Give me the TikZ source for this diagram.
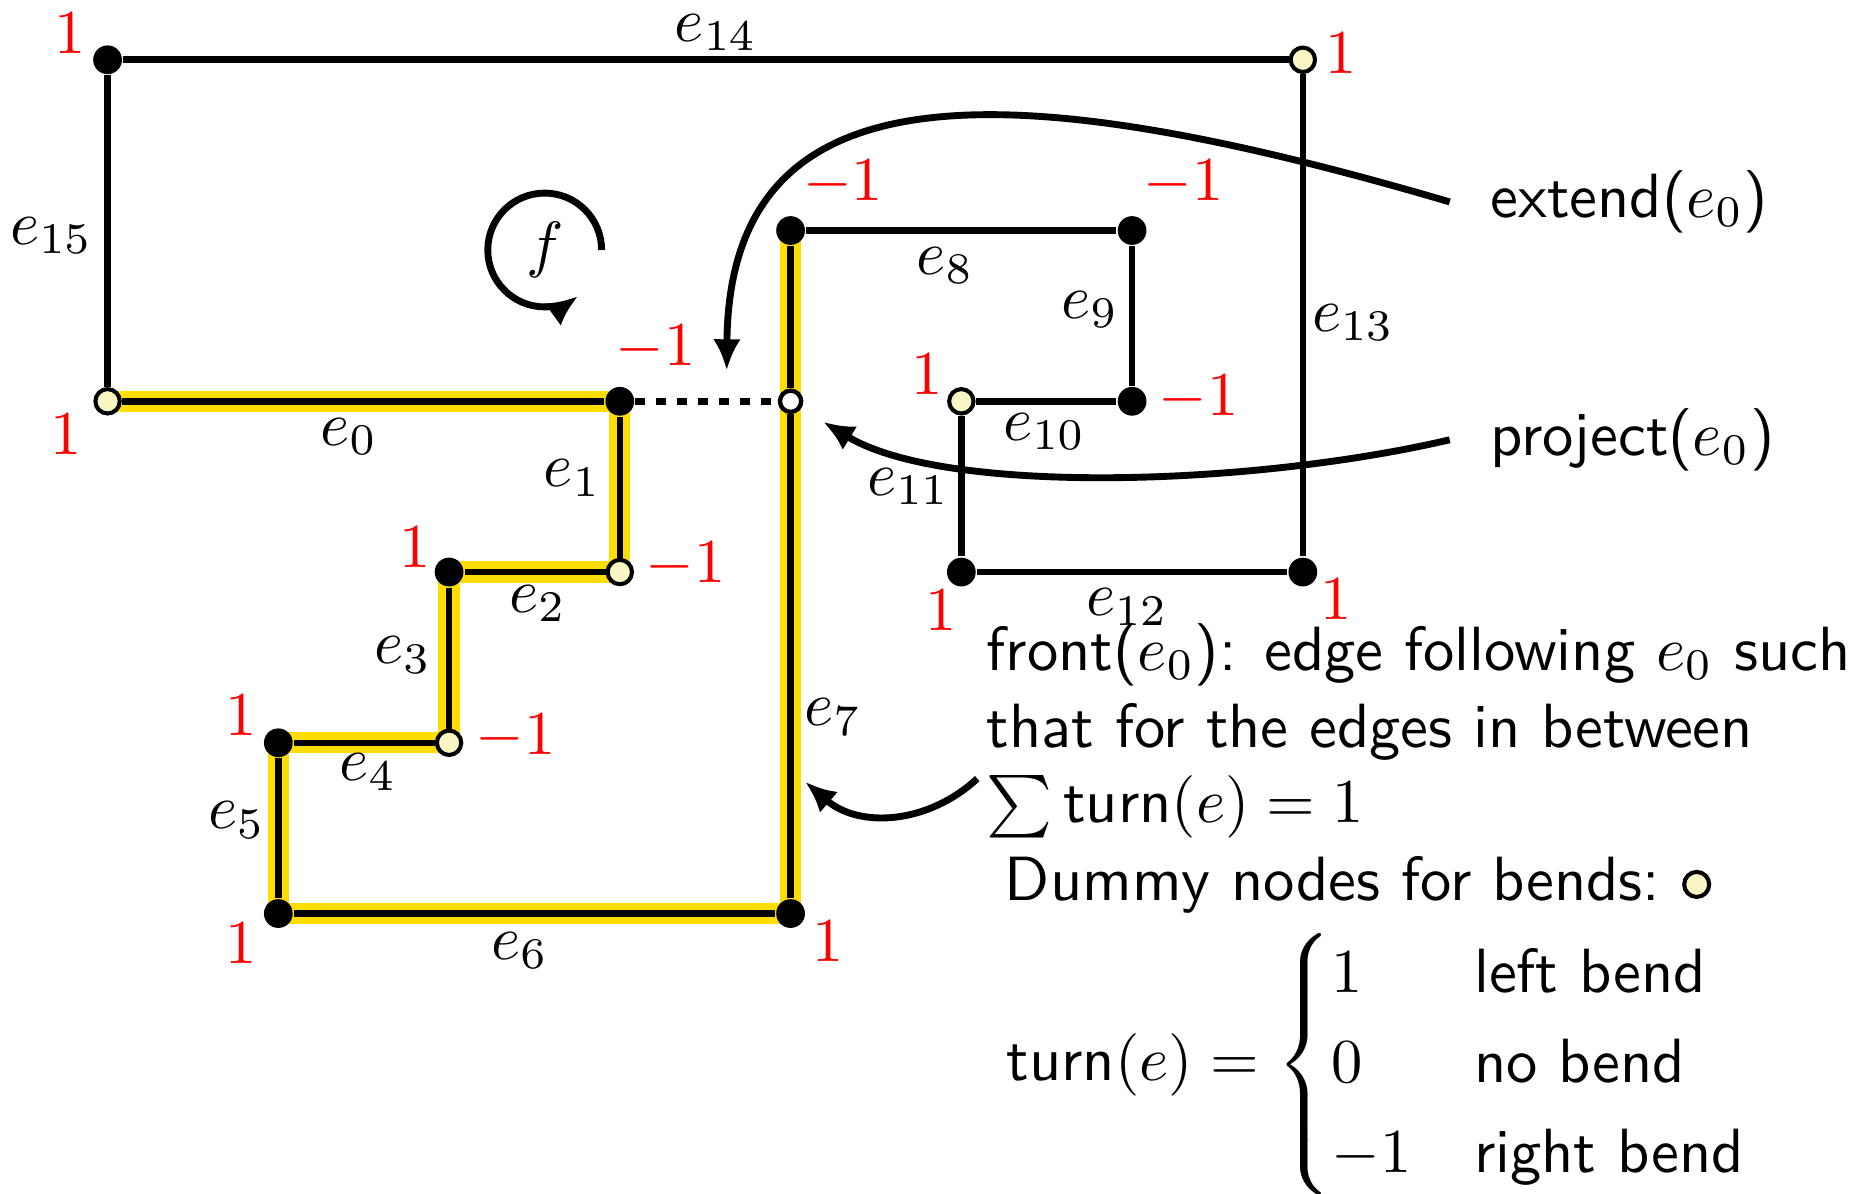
\documentclass[tikz,border=0pt]{standalone}
\usepackage{amsmath}
\usepackage{tikz}
\usetikzlibrary{arrows.meta,positioning,backgrounds}
\definecolor{hlYellow}{RGB}{255,221,0}
\definecolor{dummyFill}{RGB}{250,246,196}
\tikzset{
myVertex/.style={
	circle, fill=black, inner sep=0pt, minimum size=4.6pt
}
, myDummy/.style={
	circle, draw=black, line width=0.65pt, fill=dummyFill,
	inner sep=0pt, minimum size=3.9pt
}
, myProj/.style={
	circle, draw=black, line width=0.7pt, fill=white,
	inner sep=0pt, minimum size=3.4pt
}
% links
, myEdge/.style={line width=1.05pt}
, myHigh/.style={line width=3.4pt, color=hlYellow}
, myDash/.style={line width=1.1pt, dash pattern=on 1.6pt off 1.75pt}
, myArrow/.style={-{Latex[length=5pt,width=4.4pt]}, line width=1.1pt}
% labels
, myTurn/.style={text=red, inner sep=0pt}
, myLabel/.style={inner sep=0pt}
, myText/.style={font=\sffamily, anchor=base west}
}
\begin{document}
\begin{tikzpicture}[x=0.96cm, y=0.96cm]
	\useasboundingbox (-0.63,-1.637) rectangle (10.345,5.35);
	% vertices of the face
	\node[myDummy]  (V0)  at (0,3) {};
	\node[myVertex] (V1)  at (3,3) {};
	\node[myDummy]  (V2)  at (3,2) {};
	\node[myVertex] (V3)  at (2,2) {};
	\node[myDummy]  (V4)  at (2,1) {};
	\node[myVertex] (V5)  at (1,1) {};
	\node[myVertex] (V6)  at (1,0) {};
	\node[myVertex] (V7)  at (4,0) {};
	\node[myVertex] (V8)  at (4,4) {};
	\node[myVertex] (V9)  at (6,4) {};
	\node[myVertex] (V10) at (6,3) {};
	\node[myDummy]  (V11) at (5,3) {};
	\node[myVertex] (V12) at (5,2) {};
	\node[myVertex] (V13) at (7,2) {};
	\node[myDummy]  (V14) at (7,5) {};
	\node[myVertex] (V15) at (0,5) {};
	% projection of e0
	\node[myProj] (Pr) at (4,3) {};

	% front path
	\begin{pgfonlayer}{background}
	\draw[myHigh] (V0.center) -- (V1.center) -- (V2.center) -- (V3.center)
		-- (V4.center) -- (V5.center) -- (V6.center) -- (V7.center) -- (V8.center);
	\end{pgfonlayer}

	% edges
	\draw[myEdge] (V0) -- (V1);
	\draw[myEdge] (V1) -- (V2);
	\draw[myEdge] (V2) -- (V3);
	\draw[myEdge] (V3) -- (V4);
	\draw[myEdge] (V4) -- (V5);
	\draw[myEdge] (V5) -- (V6);
	\draw[myEdge] (V6) -- (V7);
	\draw[myEdge] (V7) -- (Pr) -- (V8);
	\draw[myEdge] (V8) -- (V9);
	\draw[myEdge] (V9) -- (V10);
	\draw[myEdge] (V10) -- (V11);
	\draw[myEdge] (V11) -- (V12);
	\draw[myEdge] (V12) -- (V13);
	\draw[myEdge] (V13) -- (V14);
	\draw[myEdge] (V14) -- (V15);
	\draw[myEdge] (V15) -- (V0);
	\draw[myDash] (V1) -- (Pr);

	% edge names
	\node[myLabel] (E0)  at (1.414,2.795) {$e_0$};
	\node[myLabel] (E1)  at (2.723,2.55)  {$e_1$};
	\node[myLabel] (E2)  at (2.52,1.815)  {$e_2$};
	\node[myLabel] (E3)  at (1.729,1.514) {$e_3$};
	\node[myLabel] (E4)  at (1.526,0.828) {$e_4$};
	\node[myLabel] (E5)  at (0.756,0.548) {$e_5$};
	\node[myLabel] (E6)  at (2.415,-0.215) {$e_6$};
	\node[myLabel] (E7)  at (4.249,1.15)  {$e_7$};
	\node[myLabel] (E8)  at (4.907,3.796) {$e_8$};
	\node[myLabel] (E9)  at (5.754,3.537) {$e_9$};
	\node[myLabel] (E10) at (5.488,2.823) {$e_{10}$};
	\node[myLabel] (E11) at (4.69,2.5)    {$e_{11}$};
	\node[myLabel] (E12) at (5.971,1.794) {$e_{12}$};
	\node[myLabel] (E13) at (7.294,3.46)  {$e_{13}$};
	\node[myLabel] (E14) at (3.563,5.161) {$e_{14}$};
	\node[myLabel] (E15) at (-0.329,3.971) {$e_{15}$};

	% turn values
	\node[myTurn] (T0)  at ([shift={(-0.24,-0.196)}]V0)  {$1$};
	\node[myTurn] (T1)  at ([shift={(0.21,0.315)}]V1)    {$-1$};
	\node[myTurn] (T2)  at ([shift={(0.385,0.04)}]V2)    {$-1$};
	\node[myTurn] (T3)  at ([shift={(-0.2,0.147)}]V3)    {$1$};
	\node[myTurn] (T4)  at ([shift={(0.39,0.035)}]V4)    {$-1$};
	\node[myTurn] (T5)  at ([shift={(-0.217,0.16)}]V5)   {$1$};
	\node[myTurn] (T6)  at ([shift={(-0.22,-0.175)}]V6)  {$1$};
	\node[myTurn] (T7)  at ([shift={(0.217,-0.16)}]V7)   {$1$};
	\node[myTurn] (T8)  at ([shift={(0.308,0.28)}]V8)    {$-1$};
	\node[myTurn] (T9)  at ([shift={(0.30,0.28)}]V9)     {$-1$};
	\node[myTurn] (T10) at ([shift={(0.39,0.02)}]V10)    {$-1$};
	\node[myTurn] (T11) at ([shift={(-0.2,0.16)}]V11)    {$1$};
	\node[myTurn] (T12) at ([shift={(-0.12,-0.224)}]V12) {$1$};
	\node[myTurn] (T13) at ([shift={(0.196,-0.16)}]V13)  {$1$};
	\node[myTurn] (T14) at ([shift={(0.224,0.04)}]V14)   {$1$};
	\node[myTurn] (T15) at ([shift={(-0.217,0.154)}]V15) {$1$};

	% face
	\node (F) at (2.56,3.886) {$f$};
	\draw[myArrow] ([xshift=0.32cm]F.center) arc[start angle=0, end angle=306, radius=0.32cm];

	% explanations
	\node[myText] (Ext)  at (7.97,4.076) {extend($e_0$)};
	\node[myText] (Proj) at (7.97,2.683) {project($e_0$)};
	\node[myText] (Front)   at (5.02,1.423) {front($e_0$): edge following $e_0$ such};
	\node[myText] (Between) at (5.02,0.975) {that for the edges in between};
	\node[myText] (Sum)     at (5.02,0.534) {$\sum \textsf{turn}(e) = 1$};
	\node[myText] (Dummy)   at (5.126,0.079) {Dummy nodes for bends:};
	\node[myDummy, minimum size=4pt, right=0pt of Dummy] (DummyKey) {};
	\node[myText] (Turn) at (5.135,-0.978) {turn$(e) = \begin{cases}
		1 & \text{left bend}\\
		0 & \text{no bend}\\
		-1 & \text{right bend}
		\end{cases}$};

	% arrows
	\coordinate (ExtTip) at (3.626,3.18);
	\coordinate (ProjTip) at (4.19,2.88);
	\coordinate (FrontTip) at (4.085,0.772);
	\draw[myArrow] ([xshift=-3pt]Ext.west) .. controls (5.2,4.95) and (3.64,4.95) .. (ExtTip);
	\draw[myArrow] ([xshift=-3pt]Proj.west) .. controls (6.68,2.5) and (4.9,2.45) .. (ProjTip);
	\draw[myArrow] ([shift={(2pt,4.5pt)}]Sum.west) .. controls (4.8,0.52) and (4.4,0.5) .. (FrontTip);
\end{tikzpicture}
\end{document}
